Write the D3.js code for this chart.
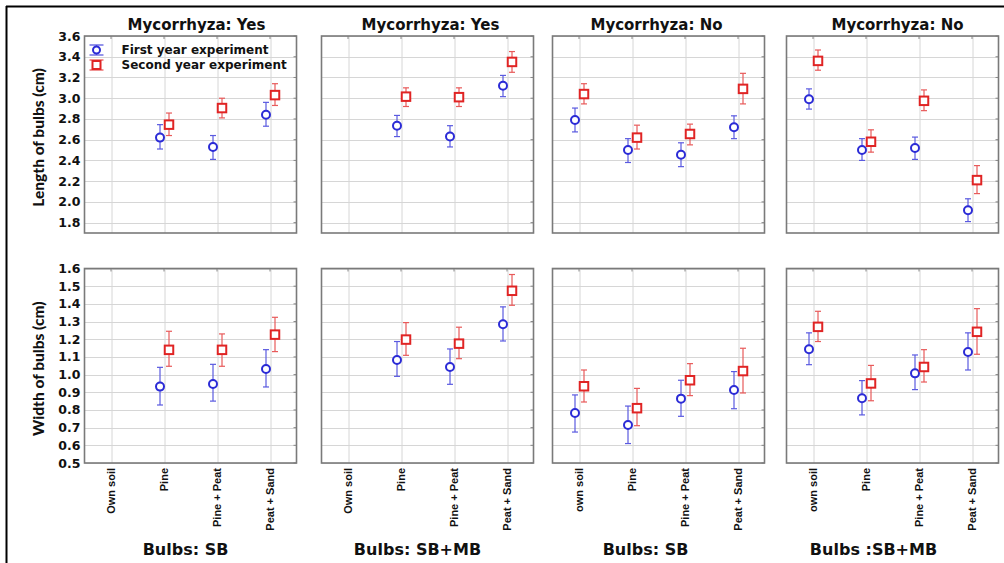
<!DOCTYPE html>
<html><head><meta charset="utf-8">
<script src="https://cdn.jsdelivr.net/npm/d3@7"></script>
<style>
html,body{margin:0;padding:0;background:#fff;}
svg{display:block;}
</style></head>
<body>
<svg id="chart" width="1004" height="563"></svg>
<script>
// ---------- DATA ----------
const categories = ["Own soil", "Pine", "Pine + Peat", "Peat + Sand"];
const categoryLabels = [
  ["Own soil", "Pine", "Pine + Peat", "Peat + Sand"],
  ["Own soil", "Pine", "Pine + Peat", "Peat + Sand"],
  ["own soil", "Pine", "Pine + Peat", "Peat + Sand"],
  ["own soil", "Pine", "Pine + Peat", "Peat + Sand"]
];
const topTitles = ["Mycorrhyza: Yes", "Mycorrhyza: Yes", "Mycorrhyza: No", "Mycorrhyza: No"];
const bottomTitles = ["Bulbs: SB", "Bulbs: SB+MB", "Bulbs: SB", "Bulbs :SB+MB"];
const seriesNames = ["First year experiment", "Second year experiment"];

const lengthTicks = [1.8, 2.0, 2.2, 2.4, 2.6, 2.8, 3.0, 3.2, 3.4, 3.6];
const widthTicks = [0.5, 0.6, 0.7, 0.8, 0.9, 1.0, 1.1, 1.2, 1.3, 1.4, 1.5, 1.6];

// Length of bulbs (cm) — per panel, per category
const lengthY1Mean = [[null, 2.62, 2.53, 2.84], [null, 2.735, 2.63, 3.12], [2.79, 2.50, 2.455, 2.72], [2.99, 2.50, 2.52, 1.92]];
const lengthY1Low  = [[null, 2.51, 2.41, 2.73], [null, 2.63, 2.53, 3.015], [2.675, 2.38, 2.34, 2.61], [2.895, 2.40, 2.41, 1.81]];
const lengthY1High = [[null, 2.745, 2.64, 2.96], [null, 2.834, 2.735, 3.22], [2.905, 2.61, 2.57, 2.83], [3.09, 2.61, 2.625, 2.03]];
const lengthY2Mean = [[null, 2.745, 2.905, 3.03], [null, 3.015, 3.01, 3.35], [3.04, 2.62, 2.655, 3.09], [3.36, 2.58, 2.975, 2.21]];
const lengthY2Low  = [[null, 2.64, 2.81, 2.93], [null, 2.92, 2.92, 3.25], [2.945, 2.51, 2.55, 2.945], [3.27, 2.48, 2.88, 2.08]];
const lengthY2High = [[null, 2.857, 3.0, 3.14], [null, 3.10, 3.10, 3.45], [3.14, 2.74, 2.75, 3.24], [3.465, 2.695, 3.08, 2.35]];

// Width of bulbs (cm)
const widthY1Mean = [[null, 0.932, 0.947, 1.032], [null, 1.083, 1.043, 1.285], [0.783, 0.715, 0.864, 0.913], [1.143, 0.866, 1.007, 1.128]];
const widthY1Low  = [[null, 0.828, 0.85, 0.93], [null, 0.99, 0.945, 1.19], [0.675, 0.61, 0.764, 0.807], [1.056, 0.772, 0.915, 1.026]];
const widthY1High = [[null, 1.041, 1.058, 1.141], [null, 1.187, 1.145, 1.383], [0.885, 0.822, 0.968, 1.017], [1.236, 0.966, 1.111, 1.236]];
const widthY2Mean = [[null, 1.14, 1.14, 1.226], [null, 1.198, 1.175, 1.474], [0.934, 0.81, 0.968, 1.02], [1.27, 0.95, 1.043, 1.242]];
const widthY2Low  = [[null, 1.047, 1.047, 1.13], [null, 1.109, 1.09, 1.392], [0.845, 0.711, 0.881, 0.896], [1.187, 0.852, 0.958, 1.115]];
const widthY2High = [[null, 1.245, 1.23, 1.324], [null, 1.294, 1.268, 1.566], [1.026, 0.922, 1.062, 1.149], [1.358, 1.052, 1.141, 1.373]];

// ---------- LAYOUT ----------
const panelLefts = [84.5, 321.5, 552.5, 786.5];
const panelW = 212;
const rows = [
  {top: 36, bottom: 233, domain: [1.7, 3.6], ticks: lengthTicks, fmt: d3.format(".1f"), title: "Length of bulbs (cm)",
   series: [[lengthY1Mean, lengthY1Low, lengthY1High], [lengthY2Mean, lengthY2Low, lengthY2High]]},
  {top: 268.5, bottom: 463, domain: [0.5, 1.6], ticks: widthTicks, fmt: d3.format(".1f"), title: "Width of bulbs (cm)",
   series: [[widthY1Mean, widthY1Low, widthY1High], [widthY2Mean, widthY2Low, widthY2High]]}
];
const topTitleOffsets = [6, 3, -2, 5];
const bottomTitleOffsets = [-5, -10, -13, -19];
const colors = ["#2b2bd6", "#e02424"];
const barColors = ["#5a5ae0", "#e85a5a"];
const seriesDx = [-4, 5];

const svg = d3.select("#chart");
// frame
svg.append("line").attr("x1", 6.5).attr("x2", 6.5).attr("y1", 6).attr("y2", 563).attr("stroke", "#000").attr("stroke-width", 2);
svg.append("line").attr("x1", 6).attr("x2", 1004).attr("y1", 6.5).attr("y2", 6.5).attr("stroke", "#000").attr("stroke-width", 2);

const x = d3.scalePoint().domain(categories).range([0, panelW]).padding(0.5);

rows.forEach((row, ri) => {
  const y = d3.scaleLinear().domain(row.domain).range([row.bottom, row.top]);
  panelLefts.forEach((left, pi) => {
    const g = svg.append("g").attr("transform", `translate(${left},0)`);
    // grid
    g.selectAll(".hg").data(row.ticks).join("line")
      .attr("x1", 0).attr("x2", panelW)
      .attr("y1", d => Math.round(y(d)) + 0.5).attr("y2", d => Math.round(y(d)) + 0.5)
      .attr("stroke", "#d6d6d6").attr("stroke-width", 1);
    g.selectAll(".vg").data(categories).join("line")
      .attr("x1", d => Math.round(x(d)) + 0.5).attr("x2", d => Math.round(x(d)) + 0.5)
      .attr("y1", row.top).attr("y2", row.bottom)
      .attr("stroke", "#d6d6d6").attr("stroke-width", 1);
    // small ticks inside right & top edges
    g.selectAll(".rt").data(row.ticks).join("line")
      .attr("x1", panelW - 3).attr("x2", panelW)
      .attr("y1", d => y(d)).attr("y2", d => y(d))
      .attr("stroke", "#888").attr("stroke-width", 1);
    g.selectAll(".tt").data(categories).join("line")
      .attr("x1", d => x(d)).attr("x2", d => x(d))
      .attr("y1", row.top).attr("y2", row.top + 3)
      .attr("stroke", "#888").attr("stroke-width", 1);
    // border
    g.append("rect").attr("x", 0).attr("y", row.top).attr("width", panelW).attr("height", row.bottom - row.top)
      .attr("fill", "none").attr("stroke", "#7a7a7a").attr("stroke-width", 1.6);

    // data
    row.series.forEach((s, si) => {
      const [mean, lo, hi] = s;
      const pts = categories.map((c, ci) => ({c, m: mean[pi][ci], l: lo[pi][ci], h: hi[pi][ci]})).filter(d => d.m != null);
      const sg = g.append("g");
      sg.selectAll(".eb").data(pts).join("line")
        .attr("x1", d => x(d.c) + seriesDx[si]).attr("x2", d => x(d.c) + seriesDx[si])
        .attr("y1", d => y(d.l)).attr("y2", d => y(d.h))
        .attr("stroke", barColors[si]).attr("stroke-width", 1.2);
      ["l", "h"].forEach(k => {
        sg.selectAll(".cap" + k).data(pts).join("line")
          .attr("x1", d => x(d.c) + seriesDx[si] - 3).attr("x2", d => x(d.c) + seriesDx[si] + 3)
          .attr("y1", d => y(d[k])).attr("y2", d => y(d[k]))
          .attr("stroke", barColors[si]).attr("stroke-width", 1.2);
      });
      if (si === 0) {
        sg.selectAll(".mk").data(pts).join("circle")
          .attr("cx", d => x(d.c) + seriesDx[si]).attr("cy", d => y(d.m)).attr("r", 4)
          .attr("fill", "#fff").attr("stroke", colors[si]).attr("stroke-width", 2);
      } else {
        sg.selectAll(".mk").data(pts).join("rect")
          .attr("x", d => x(d.c) + seriesDx[si] - 4.25).attr("y", d => y(d.m) - 4.25)
          .attr("width", 8.5).attr("height", 8.5)
          .attr("fill", "#fff").attr("stroke", colors[si]).attr("stroke-width", 2);
      }
    });

    if (ri === 0) {
      g.append("text").attr("x", panelW / 2 + topTitleOffsets[pi]).attr("y", 30)
        .attr("text-anchor", "middle").attr("font-family", "DejaVu Sans").attr("font-weight", "bold")
        .attr("font-size", 15).attr("fill", "#111").text(topTitles[pi]);
    } else {
      // x labels
      g.selectAll(".xl").data(categories).join("text")
        .attr("transform", d => `translate(${x(d)},${row.bottom + 5}) rotate(-90)`)
        .attr("text-anchor", "end").attr("dominant-baseline", "central")
        .attr("font-family", "Liberation Sans, Arial, sans-serif").attr("font-weight", "bold")
        .attr("font-size", 11).attr("fill", "#111")
        .text((d, ci) => categoryLabels[pi][ci]);
      g.append("text").attr("x", panelW / 2 + bottomTitleOffsets[pi]).attr("y", 555)
        .attr("text-anchor", "middle").attr("font-family", "DejaVu Sans").attr("font-weight", "bold")
        .attr("font-size", 16).attr("fill", "#111").text(bottomTitles[pi]);
    }

    if (pi === 0) {
      // y tick labels
      g.selectAll(".yl").data(row.ticks).join("text")
        .attr("x", -4).attr("y", d => y(d)).attr("text-anchor", "end").attr("dominant-baseline", "central")
        .attr("font-family", "DejaVu Sans").attr("font-weight", "bold").attr("font-size", 12.5)
        .attr("fill", "#111").text(d => row.fmt(d));
      g.append("text")
        .attr("transform", `translate(-47,${(row.top + row.bottom) / 2 + 3}) rotate(-90)`)
        .attr("text-anchor", "middle").attr("dominant-baseline", "central")
        .attr("font-family", "Lato, sans-serif").attr("font-weight", 900).attr("font-size", 15.5)
        .attr("fill", "#111").text(row.title);
    }
    if (ri === 0 && pi === 0) {
      // legend
      const lg = g.append("g");
      seriesNames.forEach((name, si) => {
        const cy = 50 + si * 15, cx = 12;
        lg.append("line").attr("x1", cx - 7).attr("x2", cx + 7).attr("y1", cy - 5).attr("y2", cy - 5).attr("stroke", barColors[si]).attr("stroke-width", 1.3);
        lg.append("line").attr("x1", cx - 7).attr("x2", cx + 7).attr("y1", cy + 5).attr("y2", cy + 5).attr("stroke", barColors[si]).attr("stroke-width", 1.3);
        lg.append("line").attr("x1", cx).attr("x2", cx).attr("y1", cy - 5).attr("y2", cy + 5).attr("stroke", barColors[si]).attr("stroke-width", 1.2);
        if (si === 0) {
          lg.append("circle").attr("cx", cx).attr("cy", cy).attr("r", 3.5).attr("fill", "#fff").attr("stroke", colors[si]).attr("stroke-width", 2);
        } else {
          lg.append("rect").attr("x", cx - 4).attr("y", cy - 4).attr("width", 8).attr("height", 8).attr("fill", "#fff").attr("stroke", colors[si]).attr("stroke-width", 2);
        }
        lg.append("text").attr("x", 37).attr("y", cy).attr("dominant-baseline", "central")
          .attr("font-family", "DejaVu Sans").attr("font-weight", "bold").attr("font-size", 12)
          .attr("fill", "#111").text(name);
      });
    }
  });
});
</script>
</body></html>
